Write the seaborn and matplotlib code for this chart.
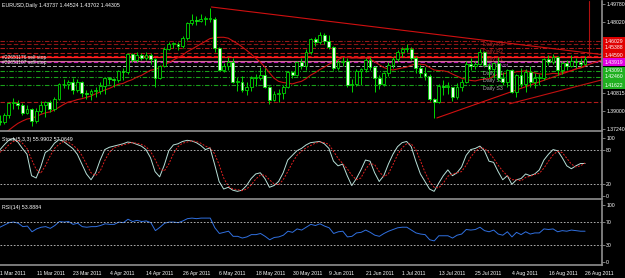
import matplotlib
matplotlib.use("Agg")
import matplotlib.pyplot as plt
import matplotlib.transforms as mtransforms
import seaborn as sns
import numpy as np
import pandas as pd

# ---------------- data ----------------
TITLE = "EURUSD,Daily 1.43737 1.44524 1.43702 1.44305"
DATE_TICKS = [0, 8, 16, 24, 32, 40, 48, 56, 64, 72, 80, 88, 96, 104, 112, 120, 128]
DATE_LABELS = ["1 Mar 2011", "11 Mar 2011", "23 Mar 2011", "4 Apr 2011", "14 Apr 2011",
               "26 Apr 2011", "6 May 2011", "18 May 2011", "30 May 2011", "9 Jun 2011",
               "21 Jun 2011", "1 Jul 2011", "13 Jul 2011", "25 Jul 2011", "4 Aug 2011",
               "16 Aug 2011", "26 Aug 2011"]

OPEN = [1.3805,1.3795,1.3865,1.3980,1.3985,1.3965,1.3885,1.3920,1.3800,1.3905,
        1.3965,1.3990,1.3925,1.4030,1.4180,1.4175,1.4200,1.4120,1.4200,1.4090,
        1.4080,1.4110,1.4110,1.4160,1.4235,1.4225,1.4220,1.4310,1.4300,1.4480,
        1.4420,1.4470,1.4440,1.4470,1.4430,1.4240,1.4360,1.4530,1.4580,1.4580,
        1.4560,1.4640,1.4790,1.4820,1.4810,1.4830,1.4830,1.4830,1.4540,1.4320,
        1.4360,1.4400,1.4200,1.4200,1.4120,1.4150,1.4240,1.4240,1.4270,1.4150,
        1.4010,1.4080,1.4090,1.4150,1.4300,1.4270,1.4400,1.4360,1.4500,1.4630,
        1.4600,1.4670,1.4610,1.4550,1.4340,1.4400,1.4410,1.4170,1.4180,1.4310,
        1.4330,1.4420,1.4350,1.4240,1.4180,1.4290,1.4370,1.4430,1.4500,1.4530,
        1.4530,1.4440,1.4340,1.4290,1.4260,1.4030,1.3990,1.4160,1.4150,1.4150,
        1.4050,1.4150,1.4200,1.4380,1.4360,1.4380,1.4500,1.4370,1.4330,1.4390,
        1.4240,1.4200,1.4320,1.4100,1.4270,1.4180,1.4300,1.4200,1.4240,1.4240,
        1.4430,1.4400,1.4450,1.4320,1.4390,1.4360,1.4410,1.4400,1.43737]
HIGH = [1.3860,1.3885,1.3990,1.4035,1.4010,1.3980,1.3960,1.3935,1.3930,1.4000,
        1.4000,1.4015,1.4050,1.4190,1.4230,1.4215,1.4240,1.4230,1.4210,1.4120,
        1.4130,1.4150,1.4200,1.4250,1.4250,1.4240,1.4320,1.4340,1.4490,1.4490,
        1.4500,1.4490,1.4500,1.4490,1.4440,1.4370,1.4550,1.4600,1.4600,1.4600,
        1.4660,1.4800,1.4880,1.4860,1.4880,1.4860,1.4940,1.4850,1.4550,1.4390,
        1.4450,1.4440,1.4250,1.4260,1.4200,1.4260,1.4280,1.4350,1.4340,1.4160,
        1.4110,1.4130,1.4170,1.4310,1.4310,1.4410,1.4440,1.4530,1.4640,1.4650,
        1.4695,1.4690,1.4670,1.4560,1.4420,1.4450,1.4440,1.4230,1.4330,1.4340,
        1.4440,1.4450,1.4360,1.4270,1.4300,1.4400,1.4450,1.4520,1.4550,1.4580,
        1.4550,1.4460,1.4370,1.4350,1.4280,1.4040,1.4180,1.4220,1.4200,1.4150,
        1.4190,1.4230,1.4410,1.4440,1.4410,1.4530,1.4510,1.4390,1.4400,1.4450,
        1.4300,1.4330,1.4330,1.4280,1.4340,1.4330,1.4360,1.4290,1.4280,1.4440,
        1.4470,1.4480,1.4460,1.4410,1.4420,1.4470,1.4440,1.4440,1.44524]
LOW = [1.3760,1.3770,1.3835,1.3920,1.3925,1.3860,1.3870,1.3750,1.3780,1.3880,
       1.3840,1.3890,1.3900,1.4010,1.4140,1.4130,1.4080,1.4100,1.4050,1.4020,
       1.4010,1.4050,1.4080,1.4080,1.4180,1.4150,1.4200,1.4220,1.4280,1.4400,
       1.4400,1.4420,1.4420,1.4380,1.4150,1.4230,1.4350,1.4520,1.4540,1.4520,
       1.4540,1.4620,1.4770,1.4770,1.4800,1.4770,1.4800,1.4500,1.4310,1.4300,
       1.4320,1.4190,1.4110,1.4100,1.4070,1.4110,1.4160,1.4220,1.4140,1.3970,
       1.4000,1.3990,1.4030,1.4140,1.4240,1.4260,1.4330,1.4320,1.4480,1.4560,
       1.4580,1.4580,1.4530,1.4320,1.4320,1.4360,1.4150,1.4100,1.4160,1.4170,
       1.4300,1.4320,1.4100,1.4130,1.4160,1.4260,1.4340,1.4410,1.4450,1.4500,
       1.4420,1.4290,1.4250,1.4220,1.4000,1.3837,1.3980,1.4070,1.4080,1.4000,
       1.4030,1.4110,1.4190,1.4320,1.4330,1.4370,1.4350,1.4250,1.4240,1.4210,
       1.4170,1.4150,1.4090,1.4050,1.4150,1.4100,1.4150,1.4140,1.4170,1.4220,
       1.4370,1.4380,1.4270,1.4280,1.4320,1.4350,1.4340,1.4350,1.43702]
CLOSE = [1.3795,1.3865,1.3980,1.3990,1.3965,1.3885,1.3920,1.3800,1.3905,1.3965,
         1.3990,1.3925,1.4030,1.4180,1.4175,1.4200,1.4120,1.4200,1.4090,1.4080,
         1.4110,1.4110,1.4160,1.4235,1.4225,1.4220,1.4310,1.4300,1.4480,1.4420,
         1.4470,1.4440,1.4470,1.4430,1.4240,1.4360,1.4530,1.4580,1.4580,1.4560,
         1.4640,1.4790,1.4820,1.4810,1.4830,1.4830,1.4830,1.4540,1.4320,1.4360,
         1.4400,1.4200,1.4200,1.4120,1.4150,1.4240,1.4240,1.4270,1.4150,1.4010,
         1.4080,1.4090,1.4150,1.4300,1.4270,1.4400,1.4360,1.4500,1.4630,1.4600,
         1.4670,1.4610,1.4550,1.4340,1.4400,1.4410,1.4170,1.4180,1.4310,1.4330,
         1.4420,1.4350,1.4240,1.4180,1.4290,1.4370,1.4430,1.4500,1.4530,1.4530,
         1.4440,1.4340,1.4290,1.4260,1.4030,1.3990,1.4160,1.4150,1.4150,1.4050,
         1.4150,1.4200,1.4380,1.4360,1.4380,1.4500,1.4370,1.4330,1.4390,1.4240,
         1.4200,1.4320,1.4100,1.4270,1.4180,1.4300,1.4200,1.4240,1.4240,1.4430,
         1.4400,1.4450,1.4320,1.4390,1.4360,1.4410,1.4400,1.4374,1.44305]
MA = [1.3659,1.3678,1.3711,1.3747,1.3780,1.3804,1.3824,1.3832,1.3848,1.3870,
      1.3886,1.3895,1.3915,1.3943,1.3970,1.3994,1.4004,1.4019,1.4028,1.4041,
      1.4055,1.4077,1.4095,1.4115,1.4131,1.4153,1.4173,1.4181,1.4203,1.4219,
      1.4244,1.4261,1.4288,1.4313,1.4322,1.4340,1.4366,1.4391,1.4416,1.4441,
      1.4464,1.4499,1.4524,1.4551,1.4577,1.4605,1.4631,1.4639,1.4644,1.4644,
      1.4635,1.4608,1.4581,1.4549,1.4514,1.4475,1.4434,1.4395,1.4346,1.4288,
      1.4234,1.4202,1.4190,1.4186,1.4176,1.4191,1.4202,1.4229,1.4264,1.4289,
      1.4320,1.4344,1.4373,1.4396,1.4419,1.4442,1.4444,1.4435,1.4438,1.4433,
      1.4437,1.4426,1.4399,1.4369,1.4341,1.4324,1.4316,1.4327,1.4336,1.4345,
      1.4364,1.4376,1.4374,1.4369,1.4341,1.4316,1.4310,1.4308,1.4298,1.4275,
      1.4255,1.4234,1.4223,1.4211,1.4206,1.4218,1.4224,1.4229,1.4254,1.4272,
      1.4275,1.4287,1.4284,1.4299,1.4301,1.4309,1.4296,1.4287,1.4277,1.4272,
      1.4274,1.4283,1.4278,1.4289,1.4300,1.4306,1.4328,1.4335,1.4353]
STOCH_K = [79,88,96,99,93,82,72,35,31,50,75,80,91,97,94,88,82,72,55,38,
           28,40,62,80,84,86,88,90,93,92,89,86,80,66,42,33,53,78,88,90,
           94,96,95,92,87,80,83,55,25,12,15,10,8,10,18,30,38,40,30,15,
           18,25,40,62,70,78,82,88,92,93,94,90,82,60,52,55,35,18,30,45,
           62,60,40,25,35,55,72,85,92,94,85,60,38,25,12,8,22,35,45,35,
           40,50,70,80,82,86,78,60,58,42,28,35,20,28,30,38,35,38,45,62,
           72,80,78,66,52,47,52,56,56]
STOCH_D = [75,80,88,94,96,91,82,63,46,39,52,68,82,89,94,93,88,81,70,55,
           40,35,43,61,75,83,86,88,90,92,91,89,85,77,63,47,43,55,73,85,
           91,93,95,94,91,86,83,73,54,31,17,12,11,9,12,19,29,36,36,28,
           21,19,28,42,57,70,77,83,87,91,93,92,89,77,65,56,47,36,28,31,
           46,56,54,42,33,38,54,71,83,90,90,80,61,41,25,15,14,22,34,38,
           40,42,53,67,77,83,82,75,65,53,43,35,28,28,26,32,34,37,39,48,
           60,71,77,75,65,55,50,52,57]
RSI = [61,65,69,70,68,62,63,53,58,61,62,59,64,71,70,71,66,68,62,61,
       62,62,64,67,66,66,70,69,75,71,73,71,72,69,55,61,68,70,70,69,
       72,76,77,76,77,77,77,60,50,52,54,45,45,42,44,48,48,50,45,39,
       43,44,47,54,52,58,56,61,66,64,67,63,60,50,53,54,44,45,51,52,
       56,52,47,45,50,54,57,60,61,61,56,51,49,48,39,37,46,46,46,42,
       47,49,57,56,57,61,55,53,56,49,47,53,44,52,48,53,49,51,51,58,
       57,58,53,55,54,56,55,54,54]

PRICE_TICKS = [1.49780, 1.48020, 1.40815, 1.39000, 1.37240]
PIVOT_NAMES = ["Daily R3", "Daily R2", "Daily R1", "Daily Pivot", "Daily S1", "Daily S2", "Daily S3"]
PIVOT_LEVELS = [1.46029, 1.45388, 1.44590, 1.43919, 1.43091, 1.42460, 1.41622]
PIVOT_BOX = ["#e00000", "#e00000", "#e00000", "#e000e0", "#20b020", "#20b020", "#20b020"]
EXTRA_LEVELS = [1.4578, 1.4490, 1.4446, 1.4410, 1.4357, 1.3995]
ORDER_LABELS = ["#22651176 sell stop", "#22651107 sell stop"]
ORDER_LEVELS = [1.4446, 1.4390]
TREND_DOWN_X = [46.3, 131.6]
TREND_DOWN_Y = [1.4948, 1.4471]
TREND_UP_X = [95.6, 131.6]
TREND_UP_Y = [1.3835, 1.4416]
TREND_UP2_X = [111.5, 131.6]
TREND_UP2_Y = [1.3977, 1.4216]
VLINE_BAR = 128.8

# ---------------- style ----------------
sns.set_style("dark", {"axes.facecolor": "black", "figure.facecolor": "black"})
plt.rcParams['font.family'] = ['Liberation Sans', 'DejaVu Sans']

W, H = 625, 278
fig = plt.figure(figsize=(W / 100, H / 100), dpi=100, facecolor="black")

def px_axes(x0, y0, x1, y1):
    return fig.add_axes([x0 / W, 1 - y1 / H, (x1 - x0) / W, (y1 - y0) / H])

ax_m = px_axes(0, 1, 602, 131)
ax_s = px_axes(0, 133, 602, 199)
ax_r = px_axes(0, 201, 602, 265)

GRID = "#909090"
FS = 3.8
FSY = 3.7
XL = (0.1, 131.7)
for ax in (ax_m, ax_s, ax_r):
    ax.set_facecolor("black")
    ax.set_xlim(*XL)
    for s in ("top", "left"):
        ax.spines[s].set_visible(False)
    for s in ("bottom", "right"):
        ax.spines[s].set_visible(True)
        ax.spines[s].set_color(GRID)
        ax.spines[s].set_linewidth(1.2)
    ax.yaxis.tick_right()
    ax.tick_params(axis="y", colors=GRID, labelcolor="white", labelsize=FSY,
                   length=2, width=0.6, pad=1.0, direction="out")
    ax.grid(False)

n = len(CLOSE)
df = pd.DataFrame({"bar": np.arange(n), "open": OPEN, "high": HIGH, "low": LOW,
                   "close": CLOSE, "ma": MA, "k": STOCH_K, "d": STOCH_D, "rsi": RSI})

# ---------------- main price panel ----------------
ax_m.set_ylim(1.3704, 1.5008)
LIME = "#00d800"
ax_m.vlines(df["bar"], df["low"], df["high"], color=LIME, lw=0.7, zorder=3)
body_lo = np.minimum(df["open"], df["close"])
body_h = np.maximum(np.abs(df["close"] - df["open"]), 0.00025)
face = np.where(df["close"] >= df["open"], "black", "#e6ffe6")
ax_m.bar(df["bar"], body_h, bottom=body_lo, width=0.62, color=face,
         edgecolor=LIME, linewidth=0.6, zorder=4)

sns.lineplot(data=df, x="bar", y="ma", ax=ax_m, color="#c81010", lw=0.8, zorder=2, legend=False)

# horizontal levels
ax_m.axhline(PIVOT_LEVELS[0], color="#9a1818", lw=0.8, ls=(0, (4, 1.5, 1, 1.5)), zorder=1)
ax_m.axhline(PIVOT_LEVELS[1], color="#b01a1a", lw=0.8, ls=(0, (4, 1.5, 1, 1.5)), zorder=1)
ax_m.axhline(PIVOT_LEVELS[2], color="#e01010", lw=0.8, ls=(0, (4, 2)), zorder=1)
ax_m.axhline(PIVOT_LEVELS[3], color="#c020c0", lw=0.8, ls=(0, (4, 2)), zorder=1)
for lv in PIVOT_LEVELS[4:]:
    ax_m.axhline(lv, color="#1aa01a", lw=0.8, ls=(0, (4, 1.5, 1, 1.5)), zorder=1)
ax_m.axhline(EXTRA_LEVELS[0], color="#8a1414", lw=0.8, ls=(0, (4, 2)), zorder=1)
ax_m.axhline(EXTRA_LEVELS[1], color="#b01a1a", lw=0.8, ls=(0, (4, 2)), zorder=1)
ax_m.axhline(EXTRA_LEVELS[2], color="#ff2020", lw=0.9, zorder=1)
ax_m.axhline(EXTRA_LEVELS[3], color="#d07090", lw=0.8, zorder=1)
ax_m.axhline(EXTRA_LEVELS[4], color="#b0b0b0", lw=0.7, ls=(0, (4, 2)), zorder=1)
ax_m.axhline(EXTRA_LEVELS[5], color="#b01a1a", lw=0.8, ls=(0, (4, 2)), zorder=1)

# trend lines and vertical line
ax_m.plot(TREND_DOWN_X, TREND_DOWN_Y, color="#d01010", lw=0.8, zorder=2)
ax_m.plot(TREND_UP_X, TREND_UP_Y, color="#d01010", lw=0.8, zorder=2)
ax_m.plot(TREND_UP2_X, TREND_UP2_Y, color="#c01010", lw=0.8, zorder=2)
ax_m.axvline(VLINE_BAR, ymin=0.58, ymax=1.0, color="#b01010", lw=0.8, zorder=2)

# texts
for name, lv, col in zip(PIVOT_NAMES, PIVOT_LEVELS,
                         ["#b02828", "#b02828", "#b02828", "#b040b0", "#a8a8a8", "#a8a8a8", "#a8a8a8"]):
    ax_m.text(105.6, lv - 0.0008, name, color=col, fontsize=FS, va="top", ha="left", zorder=2)
for lab, lv in zip(ORDER_LABELS, ORDER_LEVELS):
    ax_m.text(0.5, lv, lab, color="#e0e0e0", fontsize=3.6, va="center", ha="left", zorder=5)

ax_m.set_yticks(PRICE_TICKS)
ax_m.set_yticklabels([f"{v:.5f}" for v in PRICE_TICKS])
ax_m.set_xticks([])
ax_m.set_xlabel("")
ax_m.set_ylabel("")

tr = mtransforms.blended_transform_factory(ax_m.transAxes, ax_m.transData)
for lv, col in zip(PIVOT_LEVELS, PIVOT_BOX):
    ax_m.text(1.004, lv, f"{lv:.5f}", transform=tr, color="white", fontsize=FSY,
              va="center", ha="left", clip_on=False, zorder=6,
              bbox=dict(boxstyle="square,pad=0.3", fc=col, ec="none"))

fig.text(2 / W, 1 - 5 / H, TITLE, color="white", fontsize=FS, va="center", ha="left")

# ---------------- stochastic ----------------
ax_s.set_ylim(-5.2, 108.6)
sns.lineplot(data=df, x="bar", y="k", ax=ax_s, color="#b8e0d8", lw=0.7, legend=False)
sns.lineplot(data=df, x="bar", y="d", ax=ax_s, color="#e02020", lw=0.7, legend=False)
ax_s.lines[-1].set_linestyle((0, (2, 1.5)))
for lv in (80, 20):
    ax_s.axhline(lv, color="#c8c8c8", lw=0.6, ls=(0, (2, 2)))
ax_s.set_yticks([100, 80, 20, 0])
ax_s.set_yticklabels(["100", "80", "20", "0"])
ax_s.set_xticks([])
ax_s.set_xlabel("")
ax_s.set_ylabel("")
ax_s.text(0.004, 0.9, "Stoch(5,3,3) 55.9902 57.0649", transform=ax_s.transAxes,
          color="white", fontsize=FS, va="center", ha="left")

# ---------------- RSI ----------------
ax_r.set_ylim(-5.3, 107)
sns.lineplot(data=df, x="bar", y="rsi", ax=ax_r, color="#3070e0", lw=0.7, legend=False)
for lv in (70, 30):
    ax_r.axhline(lv, color="#c8c8c8", lw=0.6, ls=(0, (2, 2)))
ax_r.set_yticks([100, 70, 30, 0])
ax_r.set_yticklabels(["100", "70", "30", "0"])
ax_r.set_xticks(DATE_TICKS)
ax_r.set_xticklabels(DATE_LABELS, ha="left")
ax_r.tick_params(axis="x", colors=GRID, labelcolor="white", labelsize=FSY,
                 length=3, width=0.6, pad=1.5, direction="out")
ax_r.set_xlabel("")
ax_r.set_ylabel("")
ax_r.text(0.004, 0.9, "RSI(14) 53.8884", transform=ax_r.transAxes,
          color="white", fontsize=FS, va="center", ha="left")

fig.savefig("out.png", dpi=100, facecolor="black")
